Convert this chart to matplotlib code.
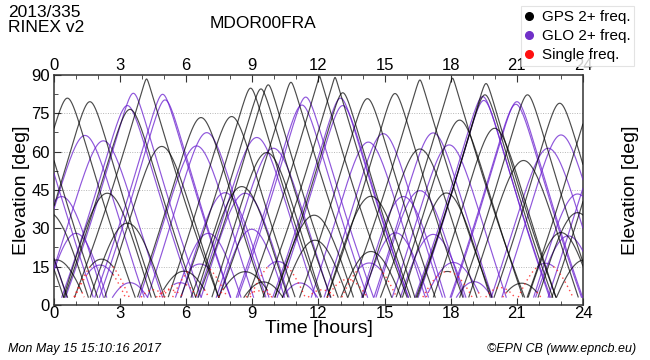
import matplotlib
matplotlib.use("Agg")
import matplotlib.pyplot as plt
from matplotlib.lines import Line2D
import numpy as np

plt.rcParams["font.family"] = ["Liberation Sans", "DejaVu Sans"]

# Each pass: (peak time [h], max elevation [deg], half-width to horizon [h], single-freq below [deg])
GPS_ARCS = [
    (-2.63, 56.5, 2.6, 0), (-2.46, 82.2, 3.2, 0), (-1.00, 78.9, 3.1, 0),
    (-1.05, 28.3, 1.6, 0), (-0.23, 36.1, 1.9, 0), (0.12, 17.6, 1.4, 5),
    (0.61, 80.9, 3.2, 0), (1.63, 79.5, 3.1, 0), (2.16, 17.9, 1.4, 15),
    (2.42, 43.7, 2.1, 0), (3.33, 32.0, 1.8, 0), (3.45, 76.5, 3.1, 0),
    (4.20, 88.4, 3.4, 0), (4.89, 62.0, 2.7, 0), (5.26, 5.9, 0.9, 6),
    (5.90, 13.2, 1.3, 6), (6.67, 73.3, 3.0, 0), (8.06, 73.7, 3.0, 0),
    (8.52, 46.3, 2.2, 0), (8.67, 13.0, 1.4, 6), (8.92, 84.8, 3.3, 0),
    (9.30, 5.5, 0.9, 6), (9.50, 9.0, 1.1, 0), (9.39, 84.5, 3.3, 0),
    (9.65, 59.6, 2.6, 0), (9.72, 86.1, 3.3, 0), (10.75, 87.1, 3.4, 0),
    (11.80, 35.1, 1.9, 0), (11.84, 25.3, 1.6, 0), (12.05, 89.5, 3.4, 0),
    (12.15, 5.9, 0.9, 6), (12.75, 89.0, 3.4, 0), (13.10, 83.0, 3.2, 0),
    (14.22, 80.7, 3.2, 0), (14.38, 42.5, 2.1, 0), (14.38, 20.9, 1.5, 0),
    (15.47, 82.7, 3.2, 0), (16.60, 88.0, 3.4, 0), (16.60, 61.0, 2.7, 0),
    (17.80, 43.8, 2.1, 0), (17.85, 13.1, 1.3, 13), (18.08, 88.7, 3.4, 0),
    (18.40, 72.3, 3.0, 0), (19.60, 86.6, 3.3, 0), (19.55, 82.2, 3.2, 0),
    (19.99, 69.1, 2.9, 0), (21.22, 8.5, 1.1, 5), (21.30, 56.5, 2.6, 0),
    (21.48, 82.2, 3.2, 0), (22.94, 78.9, 3.1, 0), (23.00, 28.3, 1.6, 0),
    (23.75, 36.1, 1.9, 0), (24.05, 17.6, 1.4, 0), (24.54, 80.9, 3.2, 0),
    (25.56, 79.5, 3.1, 0), (26.35, 43.7, 2.1, 0),
]

GLO_ARCS = [
    (-1.00, 70.0, 2.9, 0), (-1.20, 36.0, 1.9, 0), (0.35, 42.4, 2.0, 0),
    (1.00, 28.0, 1.5, 0), (1.41, 66.3, 2.8, 0), (2.09, 15.6, 1.3, 12),
    (2.24, 64.2, 2.8, 0), (3.33, 78.0, 3.1, 0), (3.45, 8.7, 1.0, 0),
    (3.60, 82.8, 3.2, 0), (4.50, 5.9, 0.8, 6), (4.93, 82.4, 3.2, 0),
    (5.04, 80.2, 3.1, 0), (5.72, 8.7, 1.0, 8), (6.47, 62.2, 2.7, 0),
    (6.62, 16.0, 1.4, 14), (6.93, 67.4, 2.8, 0), (7.00, 28.0, 1.6, 0),
    (7.76, 43.9, 2.1, 0), (8.67, 43.7, 2.1, 0), (8.97, 29.6, 1.6, 0),
    (9.20, 65.5, 2.8, 0), (9.95, 61.3, 2.7, 0), (10.15, 17.0, 1.4, 15),
    (11.16, 8.6, 1.0, 0), (11.25, 78.2, 3.1, 0), (11.42, 81.3, 3.2, 0),
    (13.00, 80.9, 3.2, 0), (13.10, 78.0, 3.1, 0), (13.30, 10.0, 1.1, 10),
    (14.26, 63.7, 2.7, 0), (14.30, 16.4, 1.4, 14), (14.94, 67.0, 2.8, 0),
    (15.50, 28.2, 1.6, 0), (15.85, 42.4, 2.0, 0), (16.60, 44.7, 2.1, 0),
    (17.20, 67.3, 2.8, 0), (17.20, 27.6, 1.6, 0), (17.93, 62.6, 2.7, 0),
    (18.12, 16.6, 1.4, 5), (19.06, 9.1, 1.0, 0), (19.45, 81.5, 3.2, 0),
    (19.50, 80.0, 3.1, 0), (20.24, 6.8, 0.9, 7), (20.95, 78.5, 3.1, 0),
    (21.00, 79.5, 3.1, 0), (22.30, 16.3, 1.4, 15), (22.42, 61.3, 2.7, 0),
    (23.00, 66.5, 2.8, 0), (23.33, 27.0, 1.6, 0), (23.75, 43.4, 2.1, 0),
    (25.00, 62.0, 2.7, 0),
]

X_TICKS = [0, 3, 6, 9, 12, 15, 18, 21, 24]
Y_TICKS = [0, 15, 30, 45, 60, 75, 90]
CUTOFF = 3.0
GPS_COLOR = "#000000"
GLO_COLOR = "#6a1fcf"
RED_COLOR = "#ff1a1a"


def arc_curve(tp, emax, half, k=0.24):
    """Elevation of a pass seen from the ground (orbit radius ratio k)."""
    e = np.radians(emax)
    delta = np.pi / 2 - e - np.arcsin(k * np.cos(e))
    phi0 = np.arccos(min(k / np.cos(delta), 1.0))
    t = np.linspace(tp - half, tp + half, 600)
    phi = phi0 * (t - tp) / half
    gamma = np.arccos(np.clip(np.cos(delta) * np.cos(phi), -1, 1))
    el = np.degrees(np.arctan2(np.cos(gamma) - k, np.sin(gamma)))
    keep = (el >= CUTOFF) & (t >= 0) & (t <= 24)
    return t[keep], el[keep]


def draw_arcs(ax, arcs, color, alpha):
    for tp, emax, half, red in arcs:
        t, el = arc_curve(tp, emax, half)
        if len(t) == 0:
            continue
        low = el < red
        ax.plot(t, np.where(low, np.nan, el), color=color, lw=0.85,
                alpha=alpha, zorder=3)
        if red:
            ax.plot(t, np.where(low, el, np.nan), color=RED_COLOR, lw=1.0,
                    ls=(0, (1.0, 2.4)), alpha=0.8, zorder=4)


fig = plt.figure(figsize=(6.5, 3.6), dpi=100)
ax = fig.add_axes([0.083, 0.153, 0.814, 0.639])

for y in Y_TICKS[1:-1]:
    ax.axhline(y, color="#b8b8b8", lw=0.7, ls=(0, (1, 1.5)), zorder=1)

draw_arcs(ax, GLO_ARCS, GLO_COLOR, 0.75)
draw_arcs(ax, GPS_ARCS, GPS_COLOR, 0.7)

ax.set_xlim(0, 24)
ax.set_ylim(0, 90)
ax.set_xticks(X_TICKS)
ax.set_xticks(np.arange(0, 25, 1), minor=True)
ax.set_yticks(Y_TICKS)
ax.set_yticks(np.arange(0, 91, 7.5), minor=True)
ax.tick_params(which="both", direction="in", top=True, right=True,
               labeltop=True, labelright=True, labelsize=12,
               color="#333333")
ax.tick_params(axis="x", pad=1)
ax.tick_params(axis="y", pad=3)
ax.tick_params(which="major", length=5)
ax.tick_params(which="minor", length=3)
for s in ax.spines.values():
    s.set_color("#333333")
    s.set_linewidth(1.1)

ax.set_xlabel("Time [hours]", fontsize=14, labelpad=-1)
ax.set_ylabel("Elevation [deg]", fontsize=14, labelpad=1)
ax2 = ax.twinx()
ax2.set_ylim(0, 90)
ax2.set_yticks([])
ax2.set_ylabel("Elevation [deg]", fontsize=14, labelpad=28)
for s in ax2.spines.values():
    s.set_visible(False)

fig.text(0.012, 0.952, "2013/335", fontsize=12.5, va="baseline")
fig.text(0.012, 0.912, "RINEX v2", fontsize=12.5, va="baseline")
fig.text(0.404, 0.922, "MDOR00FRA", fontsize=12.5, va="baseline", ha="center")
fig.text(0.012, 0.022, "Mon May 15 15:10:16 2017", fontsize=9, style="italic")
fig.text(0.978, 0.022, "\u00a9EPN CB (www.epncb.eu)", fontsize=9,
         style="italic", ha="right")

handles = [
    Line2D([], [], ls="none", marker="o", ms=5.5, color="#000000"),
    Line2D([], [], ls="none", marker="o", ms=5.5, color="#7030c8"),
    Line2D([], [], ls="none", marker="o", ms=5.5, color="#ff1010"),
]
leg = fig.legend(handles, ["GPS 2+ freq.", "GLO 2+ freq.", "Single freq."],
                 loc="upper right", bbox_to_anchor=(0.976, 0.982),
                 fontsize=11, frameon=True, fancybox=False, handlelength=0.5,
                 handletextpad=0.6, borderpad=0.25, labelspacing=0.32,
                 borderaxespad=0)
leg.get_frame().set_edgecolor("#dddddd")
leg.get_frame().set_linewidth(0.8)
leg.set_zorder(10)

fig.savefig("out.png", dpi=100)
